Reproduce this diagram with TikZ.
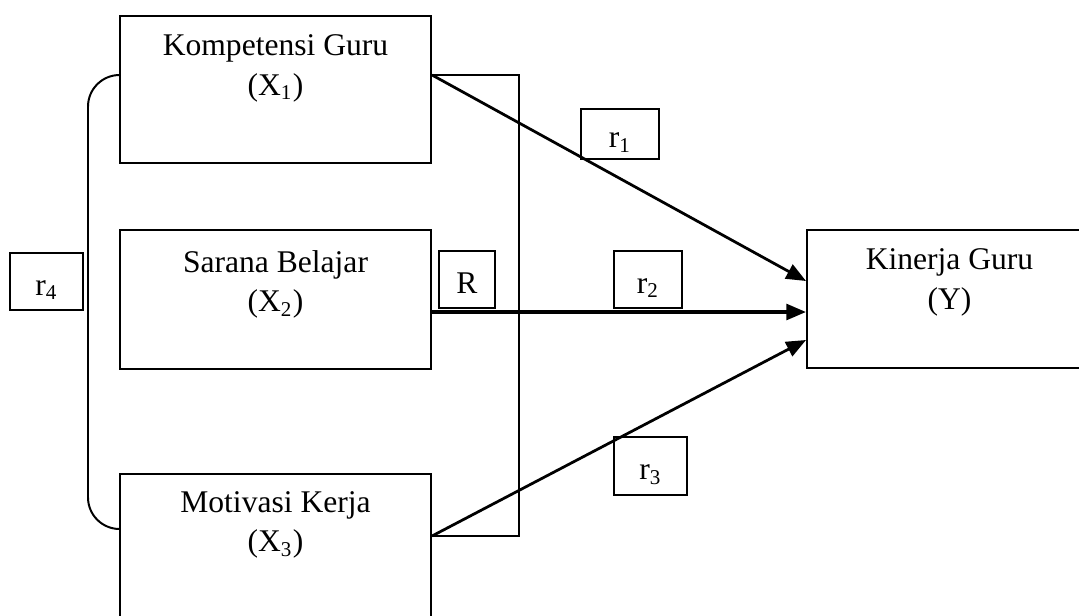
\documentclass[tikz,border=0pt]{standalone}
\usepackage{fontspec}
\setmainfont{Liberation Serif}
\usetikzlibrary{arrows.meta, positioning}
\tikzset{
  var/.style={draw, line width=0.75pt, inner sep=0pt},
  lbl/.style={align=center, inner sep=0pt, anchor=north, font=\fontsize{12}{15}\selectfont},
  coef/.style={draw, line width=0.75pt, inner sep=0pt, minimum height=21.7pt,
    text height=16pt, text depth=5.7pt, font=\fontsize{12}{15}\selectfont},
  link/.style={line width=1.05pt, -{Triangle[length=7.5pt,width=6pt]}}
}
\begin{document}
\begin{tikzpicture}[x=0.38pt, y=-0.38pt]
\useasboundingbox (0,0) rectangle (1079,615);
\clip (0,0) rectangle (1079,615);
\node[var, minimum width=118.2pt, minimum height=55.9pt] (x1) at (275.5,89.5) {};
\node[var, minimum width=118.2pt, minimum height=52.8pt] (x2) at (275.5,299.5) {};
\node[var, minimum width=118.2pt, minimum height=55.9pt] (x3) at (275.5,547.5) {};
\node[var, minimum width=108.3pt, minimum height=52.4pt] (y) at (949.5,299) {};
\node[lbl] (x1t) at ([yshift=-7.3pt]x1.north) {Kompetensi Guru\\(X\textsubscript{1})};
\node[lbl] (x2t) at ([yshift=-7.8pt]x2.north) {Sarana Belajar\\(X\textsubscript{2})};
\node[lbl] (x3t) at ([yshift=-6.8pt]x3.north) {Motivasi Kerja\\(X\textsubscript{3})};
\node[lbl] (yt) at ([yshift=-7.3pt]y.north) {Kinerja Guru\\(Y)};
\node[coef, minimum width=27.7pt] (r4) at (46.5,281.5) {r\textsubscript{4}};
\node[coef, minimum width=21.3pt] (rr) at (467,279.5) {R};
\node[coef, minimum width=25.8pt] (r2) at (648,279.5) {r\textsubscript{2}};
\node[coef, minimum width=29.6pt, minimum height=19pt, text height=14.8pt, text depth=4.2pt] (r1) at (620,134) {r\textsubscript{1}\hspace{7pt}};
\node[coef, minimum width=27.7pt] (r3) at (650.5,466) {r\textsubscript{3}};
\coordinate (k1) at (x1.east |- 0,75);
\coordinate (k3) at (x3.east |- 0,536);
\draw[line width=0.75pt] (k1) -- (519,75) -- (519,536) -- (k3);
\draw[line width=0.75pt, rounded corners=12pt] (x1.west |- 0,75) -- (88,75) -- (88,529) -- (x3.west |- 0,529);
\draw[link] (k1) -- (y.west |- 0,281);
\draw[link, line width=1.3pt] (x2.east |- 0,312) -- (y.west |- 0,312);
\draw[link] (k3) -- (y.west |- 0,340);
\end{tikzpicture}
\end{document}
